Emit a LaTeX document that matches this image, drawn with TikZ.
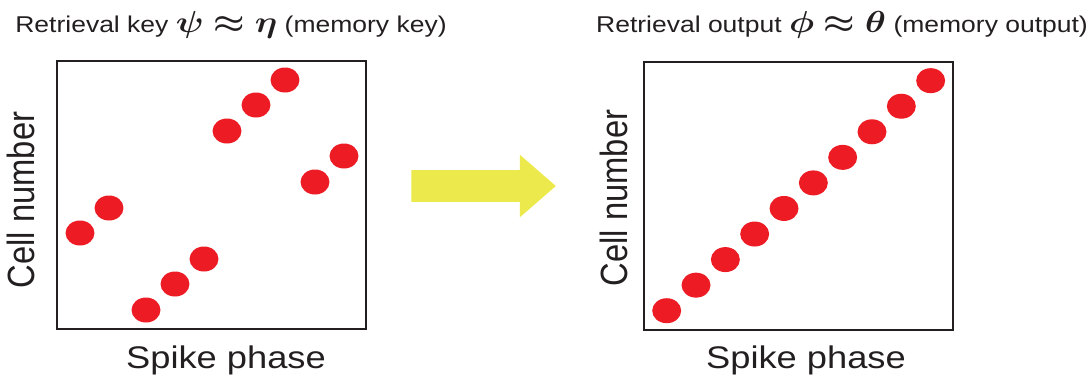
\documentclass[tikz,border=0pt]{standalone}
\usepackage{fontspec}
\usepackage{bm}
\setmainfont[FakeStretch=1.16]{Liberation Sans}
\newfontfamily\axisfont[FakeStretch=0.862]{Liberation Sans}
\usetikzlibrary{shapes.geometric,shapes.arrows}

\definecolor{spikered}{RGB}{237,28,36}
\definecolor{inkblack}{RGB}{35,31,32}
\definecolor{arrowyellow}{RGB}{236,233,76}

% bold Greek relation in the headings, widened like the text
\newcommand{\relgreek}[1]{\scalebox{1.16}[1]{\fontsize{18}{20}\selectfont$\bm{#1}$}}

\begin{document}
\begin{tikzpicture}[x=0.02cm, y=-0.02cm,
    panel/.style={rectangle, draw=inkblack, line width=1.3pt, minimum width=6.18cm, minimum height=5.36cm, inner sep=0},
    spike/.style={ellipse, fill=spikered, minimum width=0.58cm, minimum height=0.5cm, inner sep=0},
    heading/.style={anchor=base, text=inkblack, font=\fontsize{13}{15}\selectfont, inner sep=0},
    xlabel/.style={anchor=base, text=inkblack, font=\fontsize{17.8}{20}\selectfont, inner sep=0},
    ylabel/.style={anchor=base, rotate=90, text=inkblack, font=\axisfont\fontsize{21.6}{24}\selectfont, inner sep=0},
    recall/.style={single arrow, fill=arrowyellow, minimum height=2.89cm, text height=0.62cm, text depth=0pt, single arrow head extend=0.31cm, single arrow tip angle=82, inner sep=0}
]
\useasboundingbox (0,0) rectangle (1090,380);

% Titles above the two raster plots
\node[heading] (keytitle) at (231,32) {Retrieval key \relgreek{\psi\approx\eta} (memory key)};
\node[heading] (outtitle) at (842,32) {Retrieval output \relgreek{\phi\approx\theta} (memory output)};

% Plot frames
\node[panel] (keybox) at (211.5,195) {};
\node[panel] (outbox) at (798.5,196) {};

% Axis labels
\node[ylabel] (keyy) at (34,200) {Cell number};
\node[xlabel] (keyx) at (226,368) {Spike phase};
\node[ylabel] (outy) at (627,198) {Cell number};
\node[xlabel] (outx) at (806,368) {Spike phase};

% Spikes: key pattern, shifted groups
\foreach \x/\y [count=\i] in {80/233, 109/208, 146/310, 175/284, 204/259, 227/131, 256/105, 285/80, 315/182, 344/156}
    \node[spike] (k\i) at (\x,\y) {};

% Spikes: output pattern, one diagonal
\foreach \i in {0,...,9}
    \node[spike] (o\i) at ({666.7+29.33*\i},{310.7-25.56*\i}) {};

% Mapping arrow
\node[recall, anchor=tail] (map) at (411,186) {};

\end{tikzpicture}
\end{document}
